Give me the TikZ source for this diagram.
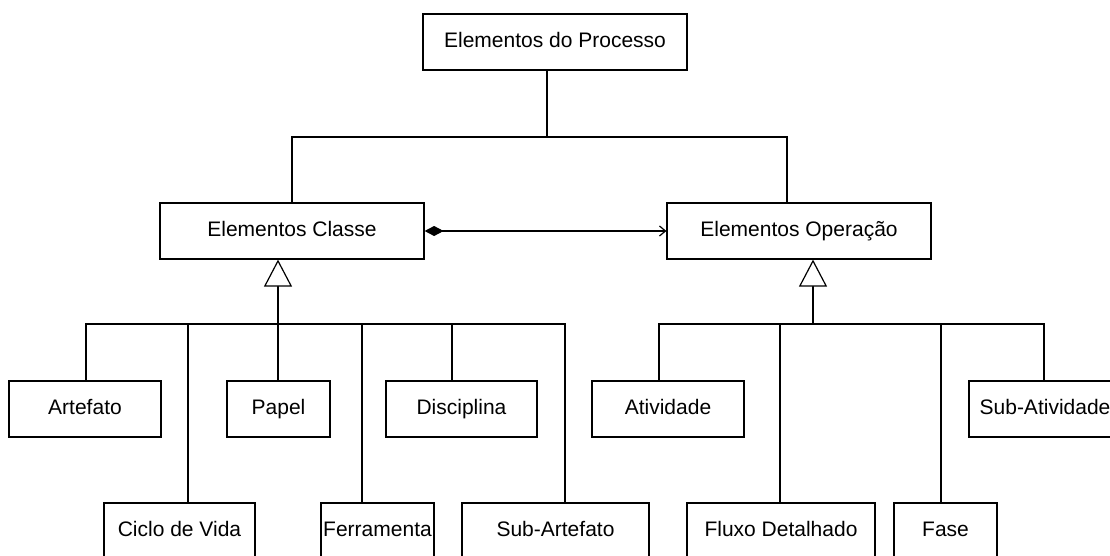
\documentclass[tikz,border=0pt]{standalone}
\usepackage{fontspec}
\setmainfont{Liberation Sans}
\usetikzlibrary{arrows.meta}

\begin{document}
\begin{tikzpicture}[x=1pt, y=-1pt, line width=1.2pt,
  every node/.style = {shape=rectangle,
    draw, align=center, inner sep=0pt, minimum height=56pt,
    text height=15pt, text depth=4pt,
    font=\fontsize{21}{24}\selectfont},
  heranca/.style = {-{Triangle[open, fill=white, length=27pt, width=28pt]}},
  composicao/.style = {{Diamond[length=19pt, width=10pt]}-{Straight Barb[length=6pt, width=10pt]}}]

  \clip (0,0) rectangle (1110,556);
  \fill[white] (0,0) rectangle (1110,556);

  \node[minimum width=264pt] (processo) at (555,42) {Elementos do Processo};
  \node[minimum width=264pt] (classe) at (292,231) {Elementos Classe};
  \node[minimum width=264pt] (operacao) at (799,231) {Elementos Operação};

  % filhos de Elementos Classe
  \node[minimum width=152pt] (artefato) at (85,409) {Artefato};
  \node[minimum width=151pt] (ciclo) at (179.5,531) {Ciclo de Vida};
  \node[minimum width=103pt] (papel) at (278.5,409) {Papel};
  \node[minimum width=113pt] (ferramenta) at (377.5,531) {Ferramenta};
  \node[minimum width=151pt] (disciplina) at (461.5,409) {Disciplina};
  \node[minimum width=187pt] (subartefato) at (555.5,531) {Sub-Artefato};

  % filhos de Elementos Operacao
  \node[minimum width=152pt] (atividade) at (668,409) {Atividade};
  \node[minimum width=188pt] (fluxo) at (781,531) {Fluxo Detalhado};
  \node[minimum width=103pt] (fase) at (945.5,531) {Fase};
  \node[minimum width=152pt] (subatividade) at (1045,409) {Sub-Atividade};

  \coordinate (jprocesso) at (547,137);
  \coordinate (jclasse) at (278,324);
  \coordinate (joperacao) at (813,324);

  \draw (processo.south -| jprocesso) -- (jprocesso);
  \draw (classe.north) |- (jprocesso);
  \draw ([xshift=-12pt]operacao.north) |- (jprocesso);

  \draw[composicao] (classe.east) -- (operacao.west);

  \draw[heranca] (jclasse) -- (jclasse |- classe.south);
  \draw[heranca] (joperacao) -- (joperacao |- operacao.south);

  \foreach \n/\dx in {artefato/1, ciclo/8.5, papel/-0.5, ferramenta/-15.5,
      disciplina/-9.5, subartefato/9.5}
    \draw ([xshift=\dx pt]\n.north) |- (jclasse);
  \foreach \n/\dx in {atividade/-9, fluxo/-1, fase/-4.5, subatividade/-1}
    \draw ([xshift=\dx pt]\n.north) |- (joperacao);
\end{tikzpicture}
\end{document}
